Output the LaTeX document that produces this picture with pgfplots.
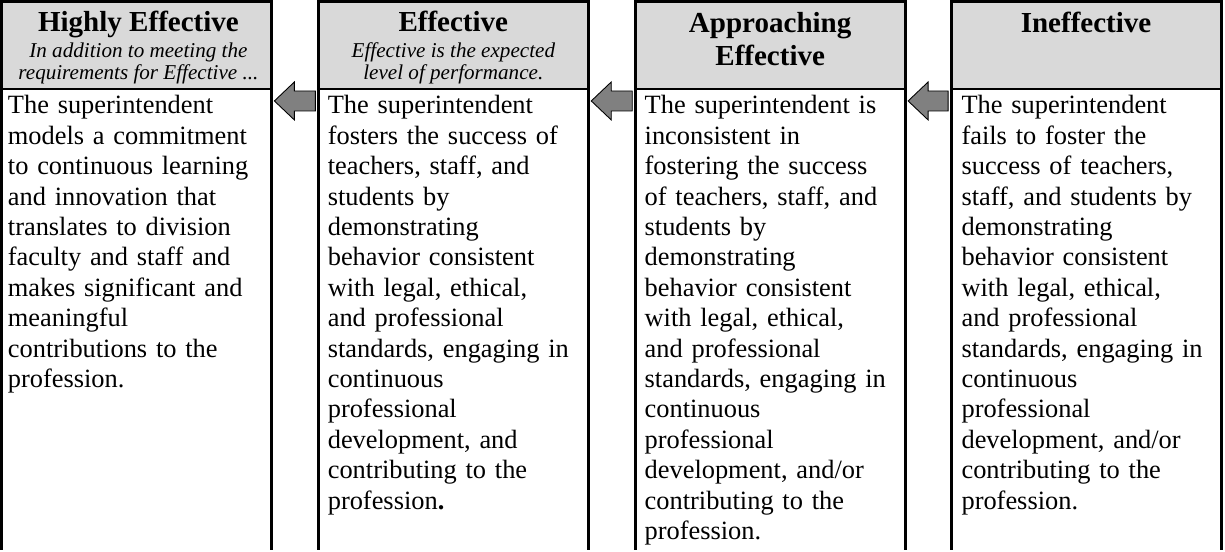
\documentclass[border=0pt]{standalone}
\usepackage{pgfplots}
\pgfplotsset{compat=1.18}
\usepackage{fontspec}
\setmainfont{Liberation Serif}
\definecolor{hdr}{HTML}{D9D9D9}
\definecolor{arr}{HTML}{808080}
\begin{document}
\begin{tikzpicture}
\begin{axis}[hide axis, scale only axis, width=556.8pt, height=250pt,
  xmin=0, xmax=1225, ymin=0, ymax=550, y dir=reverse, clip=false]
\path (axis cs:0,0) rectangle (axis cs:1225,550);
% header fills
\fill[hdr] (axis cs:1,2) rectangle (axis cs:271,89);
\fill[hdr] (axis cs:318,2) rectangle (axis cs:588,89);
\fill[hdr] (axis cs:635,2) rectangle (axis cs:905,89);
\fill[hdr] (axis cs:951,2) rectangle (axis cs:1221,89);
% header bottom lines
\draw[line width=1.1pt] (axis cs:1,89) -- (axis cs:271,89);
\draw[line width=1.1pt] (axis cs:318,89) -- (axis cs:588,89);
\draw[line width=1.1pt] (axis cs:635,89) -- (axis cs:905,89);
\draw[line width=1.1pt] (axis cs:951,89) -- (axis cs:1221,89);
% column outlines
\draw[line width=1.36pt, line join=miter] (axis cs:1,550) -- (axis cs:1,2) -- (axis cs:271,2) -- (axis cs:271,550);
\draw[line width=1.36pt, line join=miter] (axis cs:318,550) -- (axis cs:318,2) -- (axis cs:588,2) -- (axis cs:588,550);
\draw[line width=1.36pt, line join=miter] (axis cs:635,550) -- (axis cs:635,2) -- (axis cs:905,2) -- (axis cs:905,550);
\draw[line width=1.36pt, line join=miter] (axis cs:951,550) -- (axis cs:951,2) -- (axis cs:1221,2) -- (axis cs:1221,550);
% arrows
\draw[fill=arr, draw=black, line width=0.4pt] (axis cs:274,101) -- (axis cs:294,82) -- (axis cs:294,91) -- (axis cs:315,91) -- (axis cs:315,111) -- (axis cs:294,111) -- (axis cs:294,120) -- cycle;
\draw[fill=arr, draw=black, line width=0.4pt] (axis cs:591,101) -- (axis cs:611,82) -- (axis cs:611,91) -- (axis cs:632,91) -- (axis cs:632,111) -- (axis cs:611,111) -- (axis cs:611,120) -- cycle;
\draw[fill=arr, draw=black, line width=0.4pt] (axis cs:908,101) -- (axis cs:928,82) -- (axis cs:928,91) -- (axis cs:948,91) -- (axis cs:948,111) -- (axis cs:928,111) -- (axis cs:928,120) -- cycle;
% headers
\node[anchor=base, inner sep=0pt, font=\fontsize{13.2}{15}\selectfont\bfseries] at (axis cs:138,32) {Highly Effective};
\node[anchor=base, inner sep=0pt, font=\fontsize{9.6}{10}\selectfont\itshape] at (axis cs:138,58) {In addition to meeting the};
\node[anchor=base, inner sep=0pt, font=\fontsize{9.6}{10}\selectfont\itshape] at (axis cs:138,80) {requirements for Effective ...};
\node[anchor=base, inner sep=0pt, font=\fontsize{13.2}{15}\selectfont\bfseries] at (axis cs:453,32) {Effective};
\node[anchor=base, inner sep=0pt, font=\fontsize{9.6}{10}\selectfont\itshape] at (axis cs:453,58) {Effective is the expected};
\node[anchor=base, inner sep=0pt, font=\fontsize{9.6}{10}\selectfont\itshape] at (axis cs:453,80) {level of performance.};
\node[anchor=base, inner sep=0pt, font=\fontsize{13.2}{15}\selectfont\bfseries] at (axis cs:770,33) {Approaching};
\node[anchor=base, inner sep=0pt, font=\fontsize{13.2}{15}\selectfont\bfseries] at (axis cs:770,66) {Effective};
\node[anchor=base, inner sep=0pt, font=\fontsize{13.2}{15}\selectfont\bfseries] at (axis cs:1086,33) {Ineffective};
% body texts
\node[anchor=base west, inner sep=0pt, text width=115pt, align=left, font=\fontsize{12}{13.82}\selectfont] at (axis cs:7,114) {The superintendent\\ models a commitment\\ to continuous learning\\ and innovation that\\ translates to division\\ faculty and staff and\\ makes significant and\\ meaningful\\ contributions to the\\ profession.};
\node[anchor=base west, inner sep=0pt, text width=115pt, align=left, font=\fontsize{12}{13.82}\selectfont] at (axis cs:327,114) {The superintendent\\ fosters the success of\\ teachers, staff, and\\ students by\\ demonstrating\\ behavior consistent\\ with legal, ethical,\\ and professional\\ standards, engaging in\\ continuous\\ professional\\ development, and\\ contributing to the\\ profession\textbf{.}};
\node[anchor=base west, inner sep=0pt, text width=115pt, align=left, font=\fontsize{12}{13.82}\selectfont] at (axis cs:644,114) {The superintendent is\\ inconsistent in\\ fostering the success\\ of teachers, staff, and\\ students by\\ demonstrating\\ behavior consistent\\ with legal, ethical,\\ and professional\\ standards, engaging in\\ continuous\\ professional\\ development, and/or\\ contributing to the\\ profession.};
\node[anchor=base west, inner sep=0pt, text width=115pt, align=left, font=\fontsize{12}{13.82}\selectfont] at (axis cs:961,114) {The superintendent\\ fails to foster the\\ success of teachers,\\ staff, and students by\\ demonstrating\\ behavior consistent\\ with legal, ethical,\\ and professional\\ standards, engaging in\\ continuous\\ professional\\ development, and/or\\ contributing to the\\ profession.};
\end{axis}
\end{tikzpicture}
\end{document}
